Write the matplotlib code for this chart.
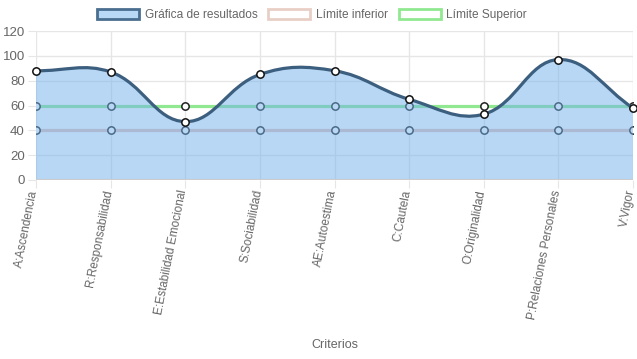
import numpy as np
import matplotlib
matplotlib.use("Agg")
import matplotlib.pyplot as plt
import matplotlib.transforms as mtransforms
from matplotlib.path import Path
from matplotlib.patches import PathPatch, Patch

plt.rcParams['font.family'] = ['Liberation Sans', 'DejaVu Sans']

# datos
criterios = ["A:Ascendencia", "R:Responsabilidad", "E:Estabilidad Emocional",
             "S:Sociabilidad", "AE:Autoestima", "C:Cautela", "O:Originalidad",
             "P:Relaciones Personales", "V:Vigor"]
resultados = [88, 87, 47, 85, 88, 65, 53, 97, 58]
limite_inferior = [40, 40, 40, 40, 40, 40, 40, 40, 40]
limite_superior = [60, 60, 60, 60, 60, 60, 60, 60, 60]
yticks = [0, 20, 40, 60, 80, 100, 120]

W, H = 637, 359
fig = plt.figure(figsize=(W / 100, H / 100), dpi=100)
ax = fig.add_axes([36 / W, (H - 180) / H, (633 - 36) / W, (180 - 31) / H])

n = len(criterios)
x = np.arange(n, dtype=float)
ax.set_xlim(0, n - 1)
ax.set_ylim(0, 120)

# escala en pixeles para calcular las curvas tipo Chart.js (tension 0.4)
px = (633 - 36) / (n - 1)
py = (180 - 31) / 120.0


def curva(xs, ys, t=0.4):
    P = np.column_stack([np.asarray(xs) * px, np.asarray(ys) * py])
    cps = []
    for i in range(len(P)):
        prev = P[max(i - 1, 0)]
        nxt = P[min(i + 1, len(P) - 1)]
        d01 = np.hypot(*(P[i] - prev))
        d12 = np.hypot(*(nxt - P[i]))
        s = d01 + d12
        fa = t * d01 / s if s else 0
        fb = t * d12 / s if s else 0
        c1 = P[i] - fa * (nxt - prev)
        c2 = P[i] + fb * (nxt - prev)
        c1[1] = np.clip(c1[1], 0, 120 * py)
        c2[1] = np.clip(c2[1], 0, 120 * py)
        cps.append((c1, c2))
    verts = [P[0]]
    codes = [Path.MOVETO]
    for i in range(len(P) - 1):
        verts += [cps[i][1], cps[i + 1][0], P[i + 1]]
        codes += [Path.CURVE4] * 3
    verts = np.array(verts) / [px, py]
    return verts, codes


# grid
for v in x:
    ax.axvline(v, color='#e6e6e6', lw=1, zorder=0)
for v in yticks[1:]:
    ax.axhline(v, color='#e6e6e6', lw=1, zorder=0)

# limites
ax.plot(x, limite_inferior, color='#e8c3b9', lw=2.3, zorder=2)
ax.plot(x, limite_superior, color='#90e890', lw=2.3, zorder=2)
ax.scatter(x, limite_inferior, s=28, facecolor='white', edgecolor='#222', lw=1.1, zorder=3)
ax.scatter(x, limite_superior, s=28, facecolor='white', edgecolor='#222', lw=1.1, zorder=3)

# resultados
verts, codes = curva(x, resultados)
fill_verts = np.vstack([verts, [[x[-1], 0], [x[0], 0], verts[0]]])
fill_codes = codes + [Path.LINETO, Path.LINETO, Path.CLOSEPOLY]
ax.add_patch(PathPatch(Path(fill_verts, fill_codes), facecolor=(113 / 255, 177 / 255, 237 / 255, 0.5),
                       edgecolor='none', zorder=4))
ax.add_patch(PathPatch(Path(verts, codes), facecolor='none', edgecolor='#3d5f7f', lw=2.3,
                       zorder=5, capstyle='round'))
ax.scatter(x, resultados, s=28, facecolor='white', edgecolor='#111', lw=1.1, zorder=6, clip_on=False)

ax.axhline(0, color='#cccccc', lw=1.5, zorder=5)

for s in ax.spines.values():
    s.set_visible(False)

# etiquetas del eje x giradas (como texto para poder desplazarlas)
ax.set_xticks(x)
ax.set_xticklabels([])
ax.tick_params(axis='x', length=6, color='#e6e6e6')
lab_tr = ax.get_xaxis_transform() + mtransforms.ScaledTranslation(-1.5 / 100, -10 / 100, fig.dpi_scale_trans)
for xi, lab in zip(x, criterios):
    ax.text(xi, 0, lab, transform=lab_tr, rotation=79, ha='right', va='center',
            rotation_mode='anchor', fontsize=8.5, color='#666666')

ax.set_yticks(yticks)
ax.set_yticklabels([str(v) for v in yticks], fontsize=9.5, color='#666666')
ax.tick_params(axis='y', length=6, color='#e6e6e6', pad=2)
ax.set_xlabel('Criterios', fontsize=9, color='#666666', labelpad=0)
ax.xaxis.set_label_coords(0.5, -(339 - 180) / (180 - 31))

handles = [Patch(facecolor='#b8d8f6', edgecolor='#4a6e8f', lw=2),
           Patch(facecolor='white', edgecolor='#e8cfc5', lw=2),
           Patch(facecolor='white', edgecolor='#90e890', lw=2)]
fig.legend(handles, ['Gráfica de resultados', 'Límite inferior', 'Límite Superior'],
           loc='center', bbox_to_anchor=(312 / W, 1 - 15 / H), ncol=3, frameon=False,
           fontsize=8.6, handlelength=3.5, handleheight=0.9, columnspacing=0.9, handletextpad=0.5,
           labelcolor='#666666')

fig.savefig('out.png', dpi=100)
